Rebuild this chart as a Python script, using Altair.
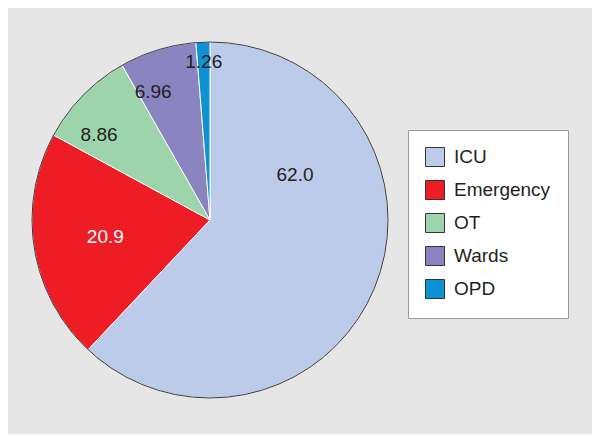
import altair as alt
import pandas as pd

categories = ["ICU", "Emergency", "OT", "Wards", "OPD"]
values = [62.0, 20.9, 8.86, 6.96, 1.26]
labels = ["62.0", "20.9", "8.86", "6.96", "1.26"]
colors = ["#bccbea", "#ee1c25", "#9ed4ac", "#8a84c0", "#0f91d6"]

df = pd.DataFrame({
    "category": categories,
    "value": values,
    "label": labels,
    "idx": list(range(len(categories))),
})

CX, CY, R = 202, 212, 178
FONT = "Liberation Sans"

pie = alt.Chart(df).mark_arc(x=CX, y=CY, outerRadius=R, stroke="white", strokeWidth=1).encode(
    theta=alt.Theta("value:Q", stack=True),
    order=alt.Order("idx:Q"),
    color=alt.Color(
        "category:N",
        sort=categories,
        scale=alt.Scale(domain=categories, range=colors),
        legend=alt.Legend(
            title=None,
            orient="none",
            legendX=400,
            legendY=122,
            fillColor="white",
            strokeColor="#9a9a9a",
            padding=17,
            symbolType="square",
            symbolSize=361,
            symbolStrokeColor="#333333",
            symbolStrokeWidth=1,
            symbolOpacity=1,
            labelFont=FONT,
            labelFontSize=19,
            labelColor="#231f20",
            labelOffset=9,
            rowPadding=9,
            labelLimit=300,
        ),
    ),
)

outline = alt.Chart(df).transform_filter(alt.datum.idx == 0).mark_arc(
    x=CX, y=CY, outerRadius=R, theta=0, theta2=6.2832,
    filled=False, fill=None, stroke="#3a3a3a", strokeWidth=1,
).encode(opacity=alt.value(1))

tbase = alt.Chart(df).transform_window(
    cum="sum(value)", sort=[alt.SortField("idx")], frame=[None, 0]
).transform_joinaggregate(
    total="sum(value)"
).transform_calculate(
    mid="(datum.cum - datum.value / 2) / datum.total * 2 * PI"
).encode(
    theta=alt.Theta("mid:Q", scale=None),
    text="label:N",
)

txt_icu = tbase.transform_filter(alt.datum.category == "ICU").mark_text(
    x=CX, y=CY, radius=96, thetaOffset=-0.86, font=FONT, fontSize=19, color="#231f20"
)

txt_em = tbase.transform_filter(alt.datum.category == "Emergency").mark_text(
    x=CX, y=CY, radius=106, font=FONT, fontSize=19, color="white"
)

txt_mid = tbase.transform_filter(
    alt.FieldOneOfPredicate(field="category", oneOf=["OT", "Wards"])
).mark_text(
    x=CX, y=CY, radius=140, thetaOffset=-0.12, font=FONT, fontSize=19, color="#231f20"
)

txt_opd = tbase.transform_filter(alt.datum.category == "OPD").mark_text(
    x=CX, y=CY, radius=158, font=FONT, fontSize=19, color="#231f20"
)

chart = alt.layer(pie, outline, txt_icu, txt_em, txt_mid, txt_opd).properties(
    width=584,
    height=426,
    padding=0,
    background="#e6e6e6",
    autosize=alt.AutoSizeParams(type="fit", contains="padding"),
).configure_view(stroke="#8f8f8f", strokeWidth=2)

chart.save("out.html", embed_options={"renderer": "svg", "actions": False})
